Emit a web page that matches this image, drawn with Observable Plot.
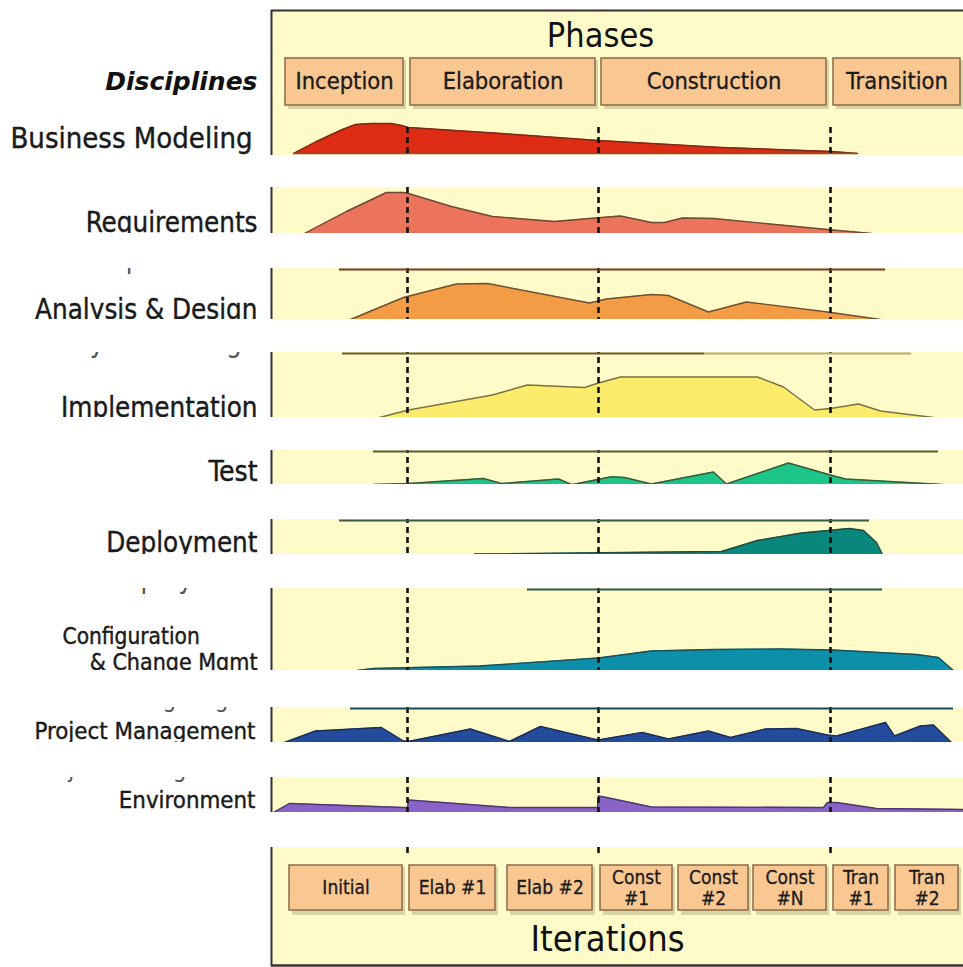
<!DOCTYPE html>
<html>
<head>
<meta charset="utf-8">
<script src="https://cdn.jsdelivr.net/npm/d3@7"></script>
<script src="https://cdn.jsdelivr.net/npm/@observablehq/plot@0.6"></script>
<style>
  html, body { margin: 0; padding: 0; background: #fff; }
  #chart svg { display: block; }
</style>
</head>
<body>
<div id="chart"></div>
<script>
// ---------- data (time offset along the project, relative effort) ----------
const phases = ["Inception", "Elaboration", "Construction", "Transition"];
const iterations = ["Initial", "Elab #1", "Elab #2", "Const\n#1", "Const\n#2", "Const\n#N", "Tran\n#1", "Tran\n#2"];
const disciplines = ["Business Modeling", "Requirements", "Analysis & Design", "Implementation", "Test", "Deployment", "Configuration\n& Change Mgmt", "Project Management", "Environment"];
const phaseBoundaries = [136, 327, 559];

const businessModeling = [[22,0],[45,12],[71,24],[84,29],[100,30],[120,30],[130,28],[137,26],[230,20],[327,13],[450,6],[560,2],[586,0]];
const requirements = [[33,0],[75,22],[115,41],[132,41],[137,40],[180,27],[221,17],[283,12],[318,15],[349,17.5],[380,11],[393,11],[411,15.5],[442,15],[561,3.5],[600,0]];
const analysisDesign = [[79,0],[132,22],[185,35.5],[216,36],[318,16.5],[335,20.5],[380,25],[397,24],[437,7.5],[475,17.5],[556,7.5],[609,0]];
const implementation = [[108,0],[137,7.5],[221,22.5],[256,32.5],[313,30],[327,34.5],[349,40.5],[486,40.5],[512,30.5],[543,7.5],[559,9],[587,13.5],[609,6.5],[662,0]];
const test = [[102,0],[137,1],[212,6],[230,1],[287,5.5],[300,0],[305,0.7],[340,7.7],[353,7],[380,0.5],[442,12.5],[455,0.5],[517,21.5],[559,9.5],[574,5.5],[671,0]];
const deployment = [[203,0.5],[450,3],[486,14],[530,21.5],[578,26],[592,24],[605,12],[611,0]];
const configMgmt = [[86,0],[102,2],[208,4.5],[327,12.5],[380,19.5],[442,21],[508,21.5],[561,20.5],[645,16],[667,13],[682,0]];
const projectMgmt = [[13,0],[44,11.5],[110,15],[132,1.5],[137,1],[199,13.5],[238,1],[269,16],[322,3.5],[327,2.5],[371,10],[397,3.5],[437,11.5],[459,5],[494,13.5],[525,14],[556,7.5],[565,6.5],[614,20],[623,6.5],[649,16.5],[662,17.5],[680,0]];
const environment = [[2,0],[18,9],[132,5],[136,5],[137,12.5],[238,5],[326,5],[327,16.5],[335,15],[380,5.5],[552,5],[556,10],[565,10],[605,4],[692,3]];

// ---------- layout ----------
const PL = 271; // panel left in page px
const rows = [
  {data: businessModeling, base: 153, fill: "#de2b14", stroke: "#7a2a18", label: disciplines[0], ly: 138, lx: -19, fs: 29},
  {data: requirements,     base: 233, fill: "#ec745c", stroke: "#6e4a36", label: disciplines[1], ly: 223, lx: -14, fs: 27.5},
  {data: analysisDesign,   base: 319, fill: "#f39c45", stroke: "#6e5236", label: disciplines[2], ly: 310, lx: -14, fs: 27.5},
  {data: implementation,   base: 417, fill: "#fbec6c", stroke: "#7a7248", label: disciplines[3], ly: 408, lx: -14, fs: 27.5},
  {data: test,             base: 484, fill: "#1dc588", stroke: "#3a5a3a", label: disciplines[4], ly: 472, lx: -14, fs: 28},
  {data: deployment,       base: 554, fill: "#0a877d", stroke: "#234a40", label: disciplines[5], ly: 543, lx: -14, fs: 27.5},
  {data: configMgmt,       base: 670, fill: "#0c8fa8", stroke: "#1f4e58", label: null},
  {data: projectMgmt,      base: 742, fill: "#234c9c", stroke: "#1c2f58", label: disciplines[7], ly: 731, lx: -16, fs: 23.8},
  {data: environment,      base: 812, fill: "#8a63c6", stroke: "#4b3a6e", label: disciplines[8], ly: 800, lx: -16, fs: 23.8}
];
const gaps = [[155,187],[233,268],[319,352],[417,450],[484,519],[554,588],[670,707],[742,777],[812,847]];
const remnants = [
  {y: 269, x1: 68, x2: 614, c: "#7a3a28"},
  {y: 353, x1: 71, x2: 433, c: "#6e5a36"},
  {y: 353, x1: 433, x2: 640, c: "#b8aa70"},
  {y: 451, x1: 102, x2: 667, c: "#5a5a30"},
  {y: 520, x1: 68, x2: 598, c: "#3a5a40"},
  {y: 589, x1: 256, x2: 611, c: "#2a5a5a"},
  {y: 708, x1: 79, x2: 682, c: "#1e4a58"}
];
// label fragments left showing just below a gap
const labelFragments = [
  {text: disciplines[1], y: 259, x: -14, fs: 27.5},
  {text: disciplines[2], y: 343, x: -14, fs: 27.5},
  {text: disciplines[5], y: 579, x: -14, fs: 27.5},
  {text: "& Change Mgmt", y: 699, x: -14, fs: 23.8},
  {text: disciplines[7], y: 769, x: -16, fs: 23.8}
];
const phaseSpan = [[14,132],[139,324],[330,555],[562,689]];
const iterSpan = [[18,131],[138,224],[236,321],[329,401],[407,477],[482,555],[562,617],[624,687]];

const FONT = "DejaVu Sans Condensed, DejaVu Sans, Verdana, sans-serif";
const FONT_W = "DejaVu Sans, Verdana, sans-serif";
const ink = "#1a1a1a";
const boxFill = "#f8c792", boxStroke = "#8c6a4a", bg = "#fefbc8";

const marks = [];
// panel background
marks.push(Plot.rect([0], {x1: 0, x2: 692, y1: 10, y2: 965, fill: bg}));
// discipline areas
for (const r of rows) {
  marks.push(Plot.areaY(r.data, {x: d => d[0], y1: () => r.base, y2: d => r.base - d[1], fill: r.fill, curve: "linear"}));
  marks.push(Plot.line(r.data, {x: d => d[0], y: d => r.base - d[1], stroke: r.stroke, strokeWidth: 1.4, curve: "linear"}));
}
// BM baseline
marks.push(Plot.ruleY([153], {x1: 22, x2: 586, stroke: "#7a5a40", strokeWidth: 1.5}));
// phase boundaries
marks.push(Plot.ruleX(phaseBoundaries, {x: d => d, y1: 127, y2: 856, stroke: "#111", strokeWidth: 2.6, strokeDasharray: "6,4"}));
// phase boxes
const phaseData = phases.map((p, i) => ({p, x1: phaseSpan[i][0], x2: phaseSpan[i][1]}));
marks.push(Plot.rect(phaseData, {x1: "x1", x2: "x2", y1: 60, y2: 109, dx: 3, fill: "#b8b48a", fillOpacity: 0.55}));
marks.push(Plot.rect(phaseData, {x1: "x1", x2: "x2", y1: 58, y2: 105, fill: boxFill, stroke: boxStroke, strokeWidth: 1.5}));
marks.push(Plot.text(phaseData, {x: d => (d.x1 + d.x2) / 2, y: 81, text: "p", fontSize: 23.5, fontFamily: FONT, fill: ink, stroke: ink, strokeWidth: 0.3}));
// iteration boxes
const iterData = iterations.map((p, i) => ({p, x1: iterSpan[i][0], x2: iterSpan[i][1]}));
marks.push(Plot.rect(iterData, {x1: "x1", x2: "x2", y1: 867, y2: 915, dx: 3, fill: "#b8b48a", fillOpacity: 0.55}));
marks.push(Plot.rect(iterData, {x1: "x1", x2: "x2", y1: 865, y2: 910, fill: boxFill, stroke: boxStroke, strokeWidth: 1.5}));
marks.push(Plot.text(iterData, {x: d => (d.x1 + d.x2) / 2, y: 887, text: "p", fontSize: 19, lineHeight: 1.1, fontFamily: FONT, fill: ink, stroke: ink, strokeWidth: 0.3}));
// titles
marks.push(Plot.text(["Phases"], {x: 329, y: 36, text: d => d, fontSize: 34, fontFamily: FONT, fill: "#111"}));
marks.push(Plot.text(["Iterations"], {x: 336, y: 939, text: d => d, fontSize: 36, fontFamily: FONT, fill: "#111"}));
marks.push(Plot.text(["Disciplines"], {x: -14, y: 81, text: d => d, textAnchor: "end", fontSize: 25, fontWeight: "bold", fontStyle: "italic", fontFamily: FONT_W, fill: "#111"}));
// discipline labels
for (const r of rows) {
  if (!r.label) continue;
  marks.push(Plot.text([r.label], {x: r.lx, y: r.ly, text: d => d, textAnchor: "end", fontSize: r.fs, fontFamily: FONT, fill: ink, stroke: ink, strokeWidth: 0.4}));
}
const cfg = disciplines[6].split("\n");
marks.push(Plot.text([cfg[0]], {x: -209, y: 636, text: d => d, textAnchor: "start", fontSize: 22.5, fontFamily: FONT, fill: ink, stroke: ink, strokeWidth: 0.4}));
marks.push(Plot.text([cfg[1]], {x: -14, y: 662, text: d => d, textAnchor: "end", fontSize: 23, fontFamily: FONT, fill: ink, stroke: ink, strokeWidth: 0.4}));
marks.push(Plot.text(labelFragments, {x: "x", y: "y", text: "text", fontSize: "fs", textAnchor: "end", fontFamily: FONT, fill: "#555"}));
// panel borders
marks.push(Plot.ruleX([0], {y1: 10, y2: 966, stroke: "#333", strokeWidth: 2}));
marks.push(Plot.ruleY([10], {x1: 0, x2: 692, stroke: "#333", strokeWidth: 2}));
marks.push(Plot.ruleY([965], {x1: 0, x2: 692, stroke: "#333", strokeWidth: 2.5}));
// white gaps
marks.push(Plot.rect(gaps, {x1: -271, x2: 692, y1: d => d[0], y2: d => d[1], fill: "#fff"}));
// remnant lines at band tops
marks.push(Plot.ruleY(remnants, {y: "y", x1: "x1", x2: "x2", stroke: "c", strokeWidth: 2}));

const chart = Plot.plot({
  width: 963, height: 967, margin: 0,
  x: {domain: [-PL, 963 - PL], range: [0, 963], axis: null},
  y: {domain: [0, 967], range: [0, 967], axis: null},
  style: {background: "#fff", fontFamily: FONT},
  marks
});
document.getElementById("chart").appendChild(chart);
</script>
</body>
</html>
